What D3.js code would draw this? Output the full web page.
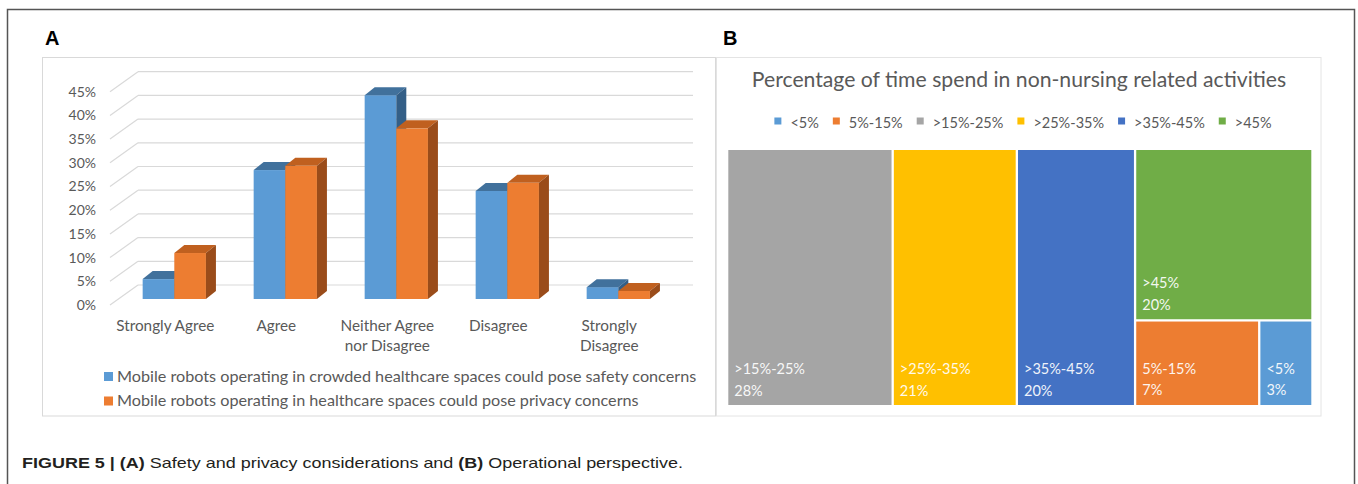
<!DOCTYPE html>
<html>
<head>
<meta charset="utf-8">
<script src="https://cdn.jsdelivr.net/npm/d3@7"></script>
<style>
  body { margin: 0; background: #fff; }
  svg { display: block; }
  text { font-family: Lato, "Open Sans", sans-serif; }
</style>
</head>
<body>
<svg id="chart" width="1358" height="484"></svg>
<script>
// ---- data ----
var categories = ["Strongly Agree", "Agree", "Neither Agree nor Disagree", "Disagree", "Strongly Disagree"];
var categoryLines = [["Strongly Agree"], ["Agree"], ["Neither Agree", "nor Disagree"], ["Disagree"], ["Strongly", "Disagree"]];
var safetyValues = [4.2, 27.2, 43.0, 22.8, 2.5];
var privacyValues = [9.7, 28.1, 36.0, 24.5, 1.7];
var seriesNames = [
  "Mobile robots operating in crowded healthcare spaces could pose safety concerns",
  "Mobile robots operating in healthcare spaces could pose privacy concerns"
];
var yTicks = [0, 5, 10, 15, 20, 25, 30, 35, 40, 45];

var treeTitle = "Percentage of time spend in non-nursing related activities";
var treeLabels = ["<5%", "5%-15%", ">15%-25%", ">25%-35%", ">35%-45%", ">45%"];
var treeValues = [3, 7, 28, 21, 20, 20];
var treeColors = ["#5B9BD5", "#ED7D31", "#A5A5A5", "#FFC000", "#4472C4", "#70AD47"];

var svg = d3.select("svg");

// outer figure frame + caption
svg.append("rect")
  .attr("x", 7.5).attr("y", 9.5).attr("width", 1347).attr("height", 520)
  .attr("fill", "none").attr("stroke", "#555").attr("stroke-width", 1.5);

var cap = svg.append("text")
  .attr("x", 22).attr("y", 468)
  .style("font-family", "'Liberation Sans', Arial, sans-serif")
  .style("font-size", "14.5px").style("fill", "#231f20");
cap.append("tspan").style("font-weight", "bold").text("FIGURE 5 | (A)");
cap.append("tspan").text(" Safety and privacy considerations and ");
cap.append("tspan").style("font-weight", "bold").text("(B)");
cap.append("tspan").text(" Operational perspective.");
// squeeze to the width the caption takes in the figure
cap.attr("textLength", 661).attr("lengthAdjust", "spacingAndGlyphs");

svg.append("text").attr("x", 45).attr("y", 45).text("A")
  .style("font-family", "'Liberation Sans', Arial, sans-serif")
  .style("font-weight", "bold").style("font-size", "20px");
svg.append("text").attr("x", 723).attr("y", 45).text("B")
  .style("font-family", "'Liberation Sans', Arial, sans-serif")
  .style("font-weight", "bold").style("font-size", "20px");

// panel boxes
svg.append("rect").attr("x", 42.5).attr("y", 57.5).attr("width", 673).attr("height", 358.5)
  .attr("fill", "none").attr("stroke", "#d9d9d9");
svg.append("rect").attr("x", 716.5).attr("y", 57.5).attr("width", 604.5).attr("height", 358.5)
  .attr("fill", "none").attr("stroke", "#e4e4e4");

// ================= A: 3D clustered columns =================
var x = d3.scaleBand().domain(categories).range([118.8, 673.8])
  .paddingInner(0.43).paddingOuter(0.215);
var xs = d3.scaleBand().domain([0, 1]).range([0, x.bandwidth()]);
var y = d3.scaleLinear().domain([0, 45]).range([299, 85.7]);

var depthX = 10, depthY = 8;       // bar depth
var wallX = 28, backDy = 14, frontDy = 6;  // walls of the 3D box

var ga = svg.append("g");

// back wall gridlines and side wall diagonals
ga.selectAll(".grid").data(yTicks).join("line")
  .attr("class", "grid")
  .attr("x1", 110 + wallX).attr("x2", 693)
  .attr("y1", function(d) { return y(d) - backDy; })
  .attr("y2", function(d) { return y(d) - backDy; })
  .attr("stroke", "#d9d9d9").attr("stroke-width", 1.2);
ga.selectAll(".diag").data(yTicks).join("line")
  .attr("class", "diag")
  .attr("x1", 110).attr("x2", 110 + wallX)
  .attr("y1", function(d) { return y(d) + frontDy; })
  .attr("y2", function(d) { return y(d) - backDy; })
  .attr("stroke", "#d9d9d9").attr("stroke-width", 1.2);

ga.selectAll(".ytick").data(yTicks).join("text")
  .attr("class", "ytick")
  .attr("x", 96).attr("y", function(d) { return y(d) + frontDy; })
  .attr("dy", "0.35em").attr("text-anchor", "end")
  .style("font-size", "14px").style("fill", "#595959")
  .text(function(d) { return d + "%"; });

var series = [
  {values: safetyValues, front: "#5B9BD5", top: "#41719C", side: "#345F87"},
  {values: privacyValues, front: "#ED7D31", top: "#C0601F", side: "#9A4C1A"}
];

series.forEach(function(s, si) {
  var gs = ga.append("g");
  var bars = gs.selectAll("g").data(s.values).join("g");
  bars.each(function(v, i) {
    var x0 = x(categories[i]) + xs(si), x1 = x0 + xs.bandwidth();
    var yT = y(v), yB = y(0);
    var b = d3.select(this);
    b.append("rect").attr("x", x0).attr("y", yT).attr("width", x1 - x0).attr("height", yB - yT)
      .attr("fill", s.front);
    b.append("path")
      .attr("d", "M" + x0 + "," + yT + "L" + x1 + "," + yT + "L" + (x1 + depthX) + "," + (yT - depthY) +
        "L" + (x0 + depthX) + "," + (yT - depthY) + "Z")
      .attr("fill", s.top);
    b.append("path")
      .attr("d", "M" + x1 + "," + yT + "L" + (x1 + depthX) + "," + (yT - depthY) + "L" + (x1 + depthX) + "," +
        (yB - depthY) + "L" + x1 + "," + yB + "Z")
      .attr("fill", s.side);
  });
});

// category labels
ga.selectAll(".xlab").data(categories).join("text")
  .attr("class", "xlab")
  .attr("text-anchor", "middle")
  .style("font-size", "15.3px").style("fill", "#595959")
  .each(function(d, i) {
    var t = d3.select(this);
    categoryLines[i].forEach(function(line, li) {
      t.append("tspan").attr("x", x(d) + x.bandwidth() / 2 - 9).attr("y", 331 + li * 19.5).text(line);
    });
  });

// legend A
var legA = ga.selectAll(".legA").data(seriesNames).join("g")
  .attr("class", "legA")
  .attr("transform", function(d, i) { return "translate(104," + (372 + i * 24.5) + ")"; });
legA.append("rect").attr("width", 9).attr("height", 9)
  .attr("fill", function(d, i) { return series[i].front; });
legA.append("text").attr("x", 13).attr("y", 9.8)
  .style("font-size", "16.2px").style("fill", "#595959")
  .text(function(d) { return d; });

// ================= B: treemap =================
var gb = svg.append("g");
gb.append("text").attr("x", 1019).attr("y", 87).attr("text-anchor", "middle")
  .style("font-size", "21.2px").style("fill", "#595959").text(treeTitle);

// legend B, laid out left to right and centred
var legB = gb.append("g");
var lx = 0;
treeLabels.forEach(function(lab, i) {
  var it = legB.append("g").attr("transform", "translate(" + lx + ",0)");
  it.append("rect").attr("y", 117.5).attr("width", 7).attr("height", 7).attr("fill", treeColors[i]);
  var t = it.append("text").attr("x", 16).attr("y", 127.5)
    .style("font-size", "14.5px").style("fill", "#595959").text(lab);
  lx += 16 + t.node().getComputedTextLength() + 14;
});
var legW = lx - 14;
legB.attr("transform", "translate(" + (1023 - legW / 2) + ",0)");

// hierarchy in the order the figure stacks it:
// three columns, then a column with >45% on top of (5%-15%, <5%)
function leaf(i) { return {name: treeLabels[i], value: treeValues[i], color: treeColors[i]}; }
var treeData = {children: [
  leaf(2), leaf(3), leaf(4),
  {children: [leaf(5), {children: [leaf(1), leaf(0)]}]}
]};

var root = d3.hierarchy(treeData).sum(function(d) { return d.children ? 0 : d.value; });
d3.treemap().tile(d3.treemapSliceDice).size([583, 255]).paddingInner(2.3).round(false)(root);

var cells = gb.append("g").attr("transform", "translate(728.3,150)")
  .selectAll("g").data(root.leaves()).join("g")
  .attr("transform", function(d) { return "translate(" + d.x0 + "," + d.y0 + ")"; });
cells.append("rect")
  .attr("width", function(d) { return d.x1 - d.x0; })
  .attr("height", function(d) { return d.y1 - d.y0; })
  .attr("fill", function(d) { return d.data.color; });
cells.append("text").attr("x", 6).attr("y", function(d) { return d.y1 - d.y0 - 31; })
  .style("font-size", "14.5px").style("fill", "#fff").style("opacity", 0.92)
  .text(function(d) { return d.data.name; });
cells.append("text").attr("x", 6).attr("y", function(d) { return d.y1 - d.y0 - 9.5; })
  .style("font-size", "14.5px").style("fill", "#fff").style("opacity", 0.92)
  .text(function(d) { return d.data.value + "%"; });
</script>
</body>
</html>
